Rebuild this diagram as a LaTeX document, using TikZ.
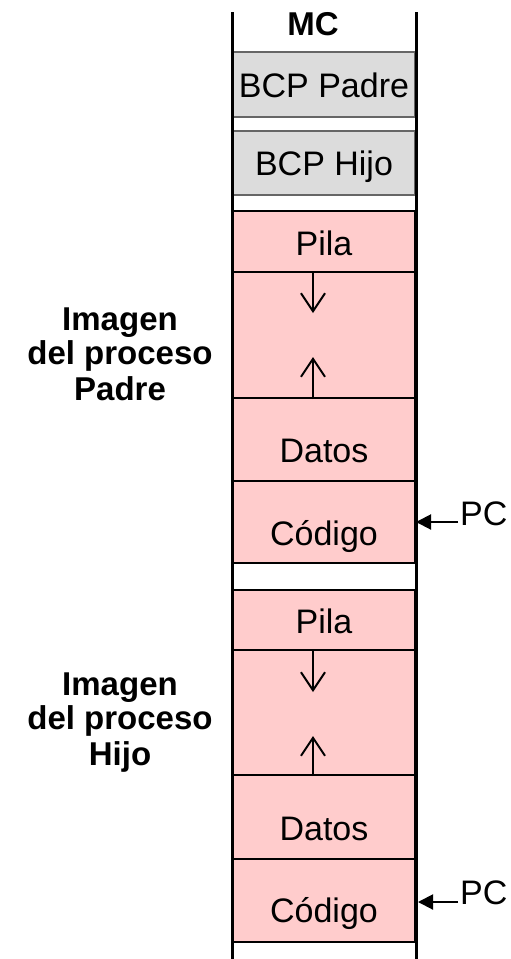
\documentclass[tikz,border=0pt]{standalone}
\usepackage{fontspec}
\setmainfont{Liberation Sans}
\usetikzlibrary{arrows.meta}
\definecolor{greyfill}{HTML}{DCDCDC}
\definecolor{pinkfill}{HTML}{FFCCCC}
\tikzset{
  greybox/.style={draw=black!60, line width=1.6pt, fill=greyfill, minimum width=182pt, inner sep=0pt},
  pinkbox/.style={draw=black, line width=2pt, fill=pinkfill, minimum width=182pt, inner sep=0pt},
  txt/.style={inner sep=0pt, anchor=base, font=\fontsize{34}{40}\selectfont},
  btxt/.style={inner sep=0pt, anchor=base, font=\fontsize{33}{40}\selectfont\bfseries},
  growarrow/.style={line width=2pt, -{Straight Barb[length=18pt,width=24pt,line width=2pt]}},
  pcarrow/.style={line width=2pt, -{Triangle[length=15pt,width=15pt]}}
}
\begin{document}
\begin{tikzpicture}[x=1pt,y=-1pt]
\useasboundingbox (0,0) rectangle (511,959);
% grey boxes
\node[greybox, minimum height=65pt] (bcpp) at (324,84.5) {};
\node[greybox, minimum height=64pt] (bcph) at (324,163) {};
% pink boxes, padre
\node[pinkbox, minimum height=61pt] (pila1) at (324,241.5) {};
\node[pinkbox, minimum height=126pt] (hueco1) at (324,335) {};
\node[pinkbox, minimum height=83pt] (datos1) at (324,439.5) {};
\node[pinkbox, minimum height=82pt] (cod1) at (324,522) {};
% pink boxes, hijo
\node[pinkbox, minimum height=60pt] (pila2) at (324,620) {};
\node[pinkbox, minimum height=125pt] (hueco2) at (324,712.5) {};
\node[pinkbox, minimum height=84pt] (datos2) at (324,817) {};
\node[pinkbox, minimum height=83pt] (cod2) at (324,900.5) {};
% outer column lines
\coordinate (lt) at (232,12);
\coordinate (lb) at (232,959);
\coordinate (rt) at (416,12);
\coordinate (rb) at (416,959);
\draw[line width=3pt] (lt) -- (lb);
\draw[line width=3pt] (rt) -- (rb);
% texts
\node[btxt] (mc) at (313,35) {MC};
\node[txt] (tbp) at (324,97) {BCP Padre};
\node[txt] (tbh) at (324,175) {BCP Hijo};
\node[txt] (tp1) at (324,255) {Pila};
\node[txt] (td1) at (324,462) {Datos};
\node[txt] (tc1) at (324,545) {Código};
\node[txt] (tp2) at (324,633) {Pila};
\node[txt] (td2) at (324,840) {Datos};
\node[txt] (tc2) at (324,922) {Código};
% growth arrows
\coordinate (a1e) at (313,313);
\coordinate (a2e) at (313,357);
\coordinate (a3e) at (313,692);
\coordinate (a4e) at (313,736);
\draw[growarrow] (hueco1.north -| a1e) -- (a1e);
\draw[growarrow] (hueco1.south -| a2e) -- (a2e);
\draw[growarrow] (hueco2.north -| a3e) -- (a3e);
\draw[growarrow] (hueco2.south -| a4e) -- (a4e);
% PC labels
\node[txt, anchor=base west] (pc1) at (460,525) {PC};
\node[txt, anchor=base west] (pc2) at (460,904) {PC};
\coordinate (pc1s) at (458,522);
\coordinate (pc2s) at (458,902);
\draw[pcarrow] (pc1s) -- (418,522 -| rt);
\draw[pcarrow] (pc2s) -- (418,902);
% left labels
\node[btxt] (li1) at (120,330) {Imagen};
\node[btxt] (ld1) at (120,364) {del proceso};
\node[btxt] (lp1) at (120,400) {Padre};
\node[btxt] (li2) at (120,695) {Imagen};
\node[btxt] (ld2) at (120,729) {del proceso};
\node[btxt] (lh2) at (120,765) {Hijo};
\end{tikzpicture}
\end{document}
